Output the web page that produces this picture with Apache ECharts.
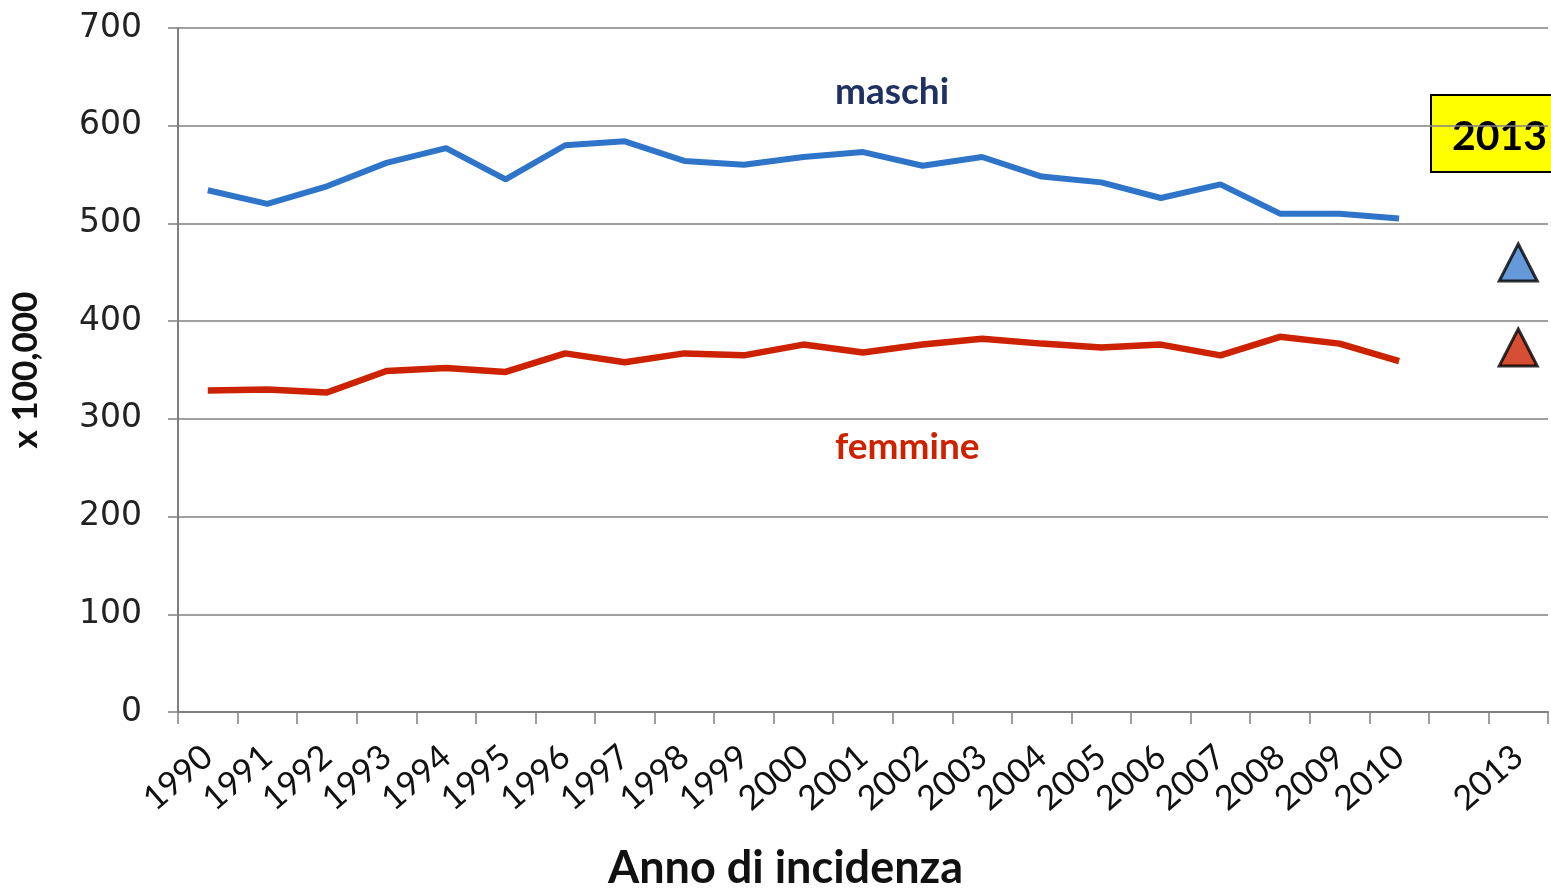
<!DOCTYPE html>
<html>
<head>
<meta charset="utf-8">
<title>Incidenza maschi / femmine</title>
<script src="https://cdn.jsdelivr.net/npm/echarts@6/dist/echarts.min.js"></script>
<style>
  html, body { margin: 0; padding: 0; background: #fff; }
  #chart { width: 1551px; height: 893px; }
</style>
</head>
<body>
<div id="chart"></div>
<script>
  // anni di incidenza (la colonna vuota separa il 2010 dalla stima 2013)
  var years = ['1990', '1991', '1992', '1993', '1994', '1995', '1996', '1997', '1998', '1999',
    '2000', '2001', '2002', '2003', '2004', '2005', '2006', '2007', '2008', '2009', '2010', '', '2013'];

  // tassi x 100,000
  var maschi = [534, 520, 538, 562, 577, 545, 580, 584, 564, 560,
    568, 573, 559, 568, 548, 542, 526, 540, 510, 510, 505];
  var femmine = [329, 330, 327, 349, 352, 348, 367, 358, 367, 365,
    376, 368, 376, 382, 377, 373, 376, 365, 384, 377, 359];

  // stime 2013 (triangoli)
  var maschi2013 = 460;
  var femmine2013 = 373;

  var yTicks = { min: 0, max: 700, interval: 100 };

  var chart = echarts.init(document.getElementById('chart'));

  var option = {
    backgroundColor: '#fff',
    animation: false,
    grid: { left: 178, right: 3, top: 28, bottom: 181 },
    xAxis: {
      type: 'category',
      data: years,
      boundaryGap: true,
      axisLine: { lineStyle: { color: '#808080', width: 2 } },
      axisTick: { show: true, length: 12, interval: 0, lineStyle: { color: '#808080', width: 1.5 } },
      axisLabel: {
        interval: 0,
        rotate: 41,
        margin: 40,
        color: '#111',
        fontFamily: 'Lato',
        fontSize: 34
      },
      splitLine: { show: false }
    },
    yAxis: {
      type: 'value',
      min: yTicks.min,
      max: yTicks.max,
      interval: yTicks.interval,
      name: 'x 100,000',
      nameLocation: 'middle',
      nameRotate: 90,
      nameGap: 135,
      nameTextStyle: { color: '#111', fontFamily: 'Lato', fontWeight: 'bold', fontSize: 35 },
      axisLine: { show: true, lineStyle: { color: '#808080', width: 2 } },
      axisTick: { show: true, length: 10, lineStyle: { color: '#808080', width: 1.5 } },
      axisLabel: {
        margin: 36,
        color: '#222',
        fontFamily: 'DejaVu Sans',
        fontSize: 33
      },
      splitLine: { lineStyle: { color: '#808080', width: 1.5 } }
    },
    series: [
      {
        name: 'maschi',
        type: 'line',
        data: maschi,
        symbol: 'none',
        lineStyle: { color: '#2e75c9', width: 6 }
      },
      {
        name: 'femmine',
        type: 'line',
        data: femmine,
        symbol: 'none',
        lineStyle: { color: '#cc2200', width: 6.5 }
      },
      {
        name: 'maschi 2013',
        type: 'scatter',
        data: [['2013', maschi2013]],
        symbol: 'triangle',
        symbolSize: [38, 37],
        itemStyle: { color: '#3f7fcf', borderColor: '#000', borderWidth: 3 }
      },
      {
        name: 'femmine 2013',
        type: 'scatter',
        data: [['2013', femmine2013]],
        symbol: 'triangle',
        symbolSize: [38, 37],
        itemStyle: { color: '#cc2200', borderColor: '#000', borderWidth: 3 }
      }
    ],
    graphic: [
      {
        type: 'text',
        left: 835,
        top: 74,
        style: { text: 'maschi', fill: '#1f3160', font: 'bold 37px Lato' }
      },
      {
        type: 'text',
        left: 835,
        top: 429,
        style: { text: 'femmine', fill: '#cc2200', font: 'bold 37px Lato' }
      },
      {
        type: 'group',
        left: 1430,
        top: 94,
        children: [
          {
            type: 'rect',
            shape: { x: 0, y: 0, width: 130, height: 77 },
            style: { fill: '#ffff00', stroke: '#000', lineWidth: 2 }
          },
          {
            type: 'text',
            x: 21,
            y: 21,
            style: { text: '2013', fill: '#000', font: 'bold 41px Lato' }
          }
        ]
      },
      {
        type: 'text',
        left: 608,
        top: 846,
        style: { text: 'Anno di incidenza', fill: '#111', font: 'bold 45px Lato' }
      }
    ]
  };

  chart.setOption(option);
  window.addEventListener('resize', function () {
    chart.resize();
  });
</script>
</body>
</html>
